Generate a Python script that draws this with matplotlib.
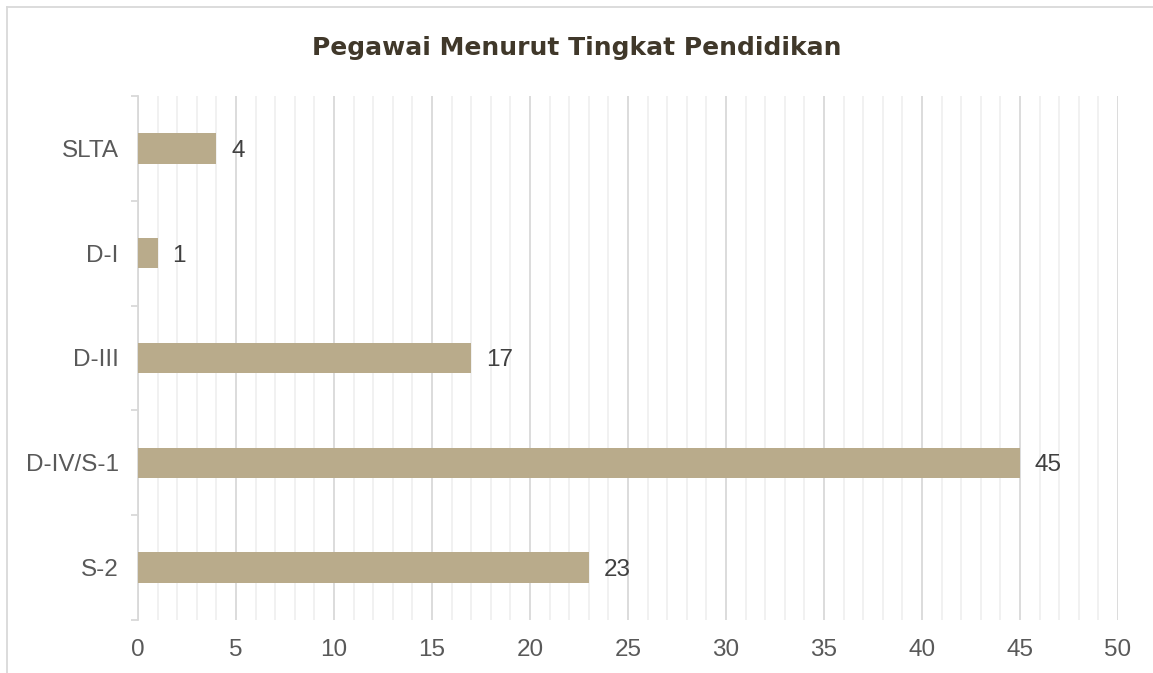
import numpy as np
import matplotlib.pyplot as plt
from matplotlib.lines import Line2D
from matplotlib.ticker import MultipleLocator, FixedLocator

categories = ["SLTA", "D-I", "D-III", "D-IV/S-1", "S-2"]
values = [4, 1, 17, 45, 23]
x_ticks = [0, 5, 10, 15, 20, 25, 30, 35, 40, 45, 50]
title = "Pegawai Menurut Tingkat Pendidikan"

bar_color = "#b9ab8b"
grid_major = "#d9d9d9"
grid_minor = "#f0f0f0"
text_gray = "#595959"

plt.rcParams['font.family'] = ['Liberation Sans', 'DejaVu Sans']

fig = plt.figure(figsize=(11.53, 6.73), dpi=100)
ax = fig.add_axes([0.1197, 0.0788, 0.8499, 0.7786])

pos = np.arange(len(categories))
ax.barh(pos, values, height=0.29, color=bar_color, zorder=3)
for p, v in zip(pos, values):
    ax.text(v + 0.75, p, str(v), va='center_baseline', ha='left', fontsize=17.5, color="#404040")

ax.set_xlim(0, 50)
ax.set_ylim(len(categories) - 0.5, -0.5)
ax.set_xticks(x_ticks)
ax.xaxis.set_minor_locator(MultipleLocator(1))
ax.set_yticks(pos)
ax.set_yticklabels(categories)
ax.yaxis.set_minor_locator(FixedLocator(np.arange(-0.5, len(categories), 1.0)))

ax.grid(axis='x', which='major', color=grid_major, lw=1.3, zorder=0)
ax.grid(axis='x', which='minor', color=grid_minor, lw=1.3, zorder=0)

for s in ['top', 'right', 'bottom']:
    ax.spines[s].set_visible(False)
ax.spines['left'].set_color(grid_major)
ax.spines['left'].set_linewidth(1.3)

ax.tick_params(axis='x', which='both', length=0, pad=14, labelsize=17.5, labelcolor=text_gray)
ax.tick_params(axis='y', which='major', length=0, pad=14, labelsize=17.5, labelcolor=text_gray)
ax.tick_params(axis='y', which='minor', length=5, width=1.3, color=grid_major)

fig.text(0.5, 0.9287, title, ha='center', va='center', fontsize=18,
         fontweight='bold', color="#40382a", family=['DejaVu Sans'])

# chart area border (only top and left visible)
fig.add_artist(Line2D([0.0061, 0.0061], [0.0, 0.9896], transform=fig.transFigure,
                      color=grid_major, lw=1.3))
fig.add_artist(Line2D([0.0061, 1.0], [0.9896, 0.9896], transform=fig.transFigure,
                      color=grid_major, lw=1.3))

fig.savefig("out.png", dpi=100, facecolor="white")
